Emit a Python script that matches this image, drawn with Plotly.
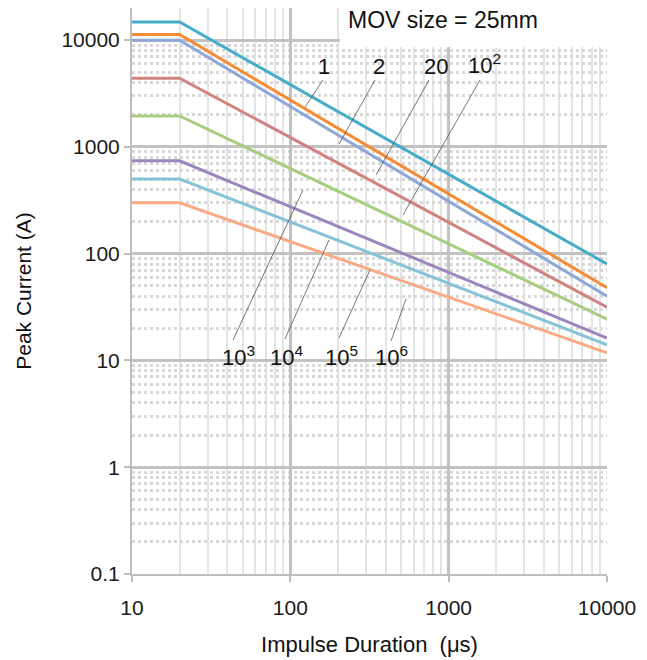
import plotly.graph_objects as go

# ---- data ----
durations_us = [10, 20, 10000]
series_names = ["1", "2", "20", "10^2", "10^3", "10^4", "10^5", "10^6"]
cur_1 = [14800, 14800, 80]
cur_2 = [11300, 11300, 48]
cur_20 = [10000, 10000, 40]
cur_1e2 = [4400, 4400, 31.5]
cur_1e3 = [1950, 1950, 24.4]
cur_1e4 = [740, 740, 16.2]
cur_1e5 = [500, 500, 14]
cur_1e6 = [300, 300, 11.8]
series_values = [cur_1, cur_2, cur_20, cur_1e2, cur_1e3, cur_1e4, cur_1e5, cur_1e6]
series_colors = ["#45adc7", "#f68b35", "#8ea6d8", "#cf8482", "#a9cd80",
                 "#9c86bd", "#86c3d6", "#f8ab84"]

x_tick_vals = [10, 100, 1000, 10000]
x_tick_text = ["10", "100", "1000", "10000"]
y_tick_vals = [0.1, 1, 10, 100, 1000, 10000]
y_tick_text = ["0.1", "1", "10", "100", "1000", "10000"]

# ---- layout geometry (page pixels; the page body adds an 8px offset) ----
OFF = 8
W, H = 647 - OFF, 660 - OFF
PL, PR, PT, PB = 132, 607, 8, 574          # plot area in page pixels
L, R, T, B = PL - OFF, (W + OFF) - PR, PT - OFF, (H + OFF) - PB
PW, PH = PR - PL, PB - PT


def px(xp):
    return (xp - PL) / PW


def py(yp):
    return (PB - yp) / PH


fig = go.Figure()
for name, vals, col in zip(series_names, series_values, series_colors):
    fig.add_trace(go.Scatter(x=durations_us, y=vals, mode="lines", name=name,
                             line=dict(color=col, width=3), showlegend=False))

tick_font = dict(family="Liberation Sans, Arial", size=21, color="#1a1a1a")

common = dict(type="log", showgrid=True, gridcolor="#c2c2c2", gridwidth=2.5,
              showline=True, linecolor="#bdbdbd", linewidth=2,
              ticks="outside", ticklen=6, tickcolor="#bdbdbd", tickwidth=2,
              tickfont=tick_font, zeroline=False)

fig.update_xaxes(range=[1, 4], tickvals=x_tick_vals, ticktext=x_tick_text,
                 ticklabelstandoff=8,
                 minor=dict(showgrid=True, gridcolor="#e4e4e4", griddash="solid",
                            gridwidth=2, dtick="D1"),
                 title=dict(text="Impulse Duration \u00a0(\u03bcs)",
                            font=dict(family="Liberation Sans, Arial", size=22, color="#111111"),
                            standoff=18),
                 **common)
fig.update_yaxes(range=[-1, 4.301], tickvals=y_tick_vals, ticktext=y_tick_text,
                 minor=dict(showgrid=True, gridcolor="#d8d8d8", griddash="dot",
                            gridwidth=2.5, dtick="D1"),
                 title=dict(text="Peak Current (A)",
                            font=dict(family="Liberation Sans, Arial", size=21, color="#111111"),
                            standoff=24),
                 **common)

shapes = [dict(type="rect", xref="paper", yref="paper", x0=px(340), x1=px(660),
               y0=py(47), y1=py(-5), fillcolor="white", line=dict(width=0), layer="above")]

# leader lines (page pixel positions)
leaders = [((323, 80), (305, 107)), ((375, 80), (339, 144)), ((429, 80), (376, 175)),
           ((480, 80), (403, 215)), ((233, 340), (303, 190)), ((285, 339), (329, 240)),
           ((339, 338), (370, 270)), ((391, 341), (406, 299))]
for (a, b) in leaders:
    shapes.append(dict(type="line", xref="paper", yref="paper", x0=px(a[0]), y0=py(a[1]),
                       x1=px(b[0]), y1=py(b[1]), line=dict(color="#555555", width=0.8)))

label_font = dict(family="Liberation Sans, Arial", size=22, color="#111111")
label_text = ["1", "2", "20", "10<sup>2</sup>", "10<sup>3</sup>", "10<sup>4</sup>",
              "10<sup>5</sup>", "10<sup>6</sup>"]
label_pos = [(324, 67), (379, 67), (436, 67), (484, 64), (238, 356), (286, 356),
             (341, 356), (391, 356)]
annotations = []
for txt, (xp, yp) in zip(label_text, label_pos):
    annotations.append(dict(text=txt, xref="paper", yref="paper", x=px(xp), y=py(yp),
                            showarrow=False, font=label_font, xanchor="center",
                            yanchor="middle"))
annotations.append(dict(text="MOV size = 25mm", xref="paper", yref="paper",
                        x=px(346), y=py(20), xanchor="left", yanchor="middle",
                        showarrow=False,
                        font=dict(family="Liberation Sans, Arial", size=23, color="#111111")))

fig.update_layout(width=W, height=H, margin=dict(l=L, r=R, t=T, b=B),
                  plot_bgcolor="white", paper_bgcolor="white",
                  shapes=shapes, annotations=annotations)

fig.write_html("out.html")
